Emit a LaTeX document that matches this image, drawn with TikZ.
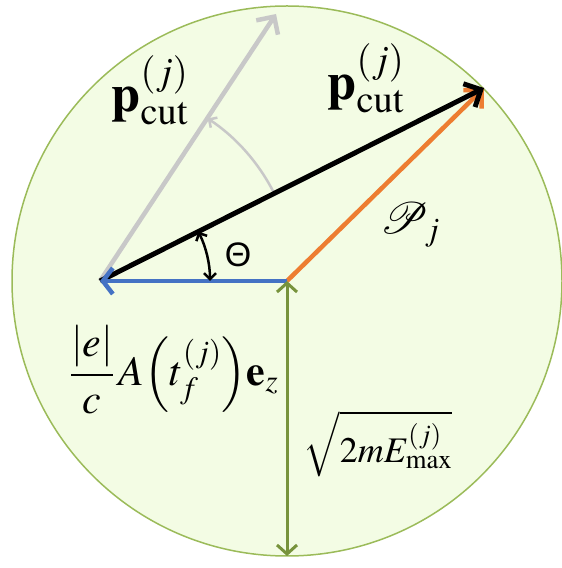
\documentclass[tikz,border=0pt]{standalone}
\usepackage{mathptmx}
\usepackage{fontspec}
\setmainfont{Liberation Serif}
\newfontfamily\thetafont{Liberation Sans}
\usetikzlibrary{arrows.meta}
\definecolor{myolive}{RGB}{155,187,89}
\definecolor{mygreen}{RGB}{119,147,60}
\definecolor{myblue}{RGB}{68,114,196}
\definecolor{myorange}{RGB}{237,125,49}
\definecolor{mygray}{RGB}{200,200,200}
\definecolor{diskin}{RGB}{243,252,228}
\definecolor{diskout}{RGB}{214,238,174}
\pgfdeclareradialshading{diskshade}{\pgfpoint{0bp}{0bp}}{color(0bp)=(diskin); color(30bp)=(diskin); color(50bp)=(diskout)}

\begin{document}
\begin{tikzpicture}[x=1pt, y=1pt,
    vec/.style={line width=#1, -{Straight Barb[length=13pt, width=26pt]}},
    anglearc/.style={line width=2.5pt, -{Straight Barb[length=6pt, width=12pt]}},
    lbl/.style={inner sep=0pt, font=\fontsize{#1}{#1}\selectfont}
  ]
    \useasboundingbox (0,0) rectangle (562,568);

    \coordinate (C) at (287,287);
    \coordinate (O) at (100,287);
    \coordinate (T) at (484,480);
    \coordinate (G) at (276,554);
    \coordinate (D) at (287,12);

    % momentum disk
    \shadedraw[shading=diskshade, draw=myolive, line width=1.5pt] (C) circle[radius=275];

    % rotated momentum
    \draw[vec=4.5pt, mygray] (O) -- (G);
    \draw[anglearc, mygray] ([shift={(27:195)}]O) arc[start angle=27, end angle=56.5, radius=195];

    \draw[vec=4.5pt, myorange] (C) -- (T);
    \draw[vec=5pt, black] (O) -- (T);
    \draw[vec=4.5pt, myblue, -{Straight Barb[length=10pt, width=26pt]}] (C) -- (O);
    \draw[line width=3pt, mygreen, {Straight Barb[length=9pt, width=20pt]}-{Straight Barb[length=9pt, width=20pt]}] (C) -- (D);

    % angle Theta
    \draw[anglearc, black, {Straight Barb[length=6pt, width=12pt]}-{Straight Barb[length=6pt, width=12pt]}]
      ([shift={(26.7:110)}]O) arc[start angle=26.7, end angle=0, radius=110];

    \node[lbl=52] (pleft) at (150,478) {$\mathbf{p}^{(j)}_{\mathrm{cut}}$};
    \node[lbl=52] (pright) at (366,490) {$\mathbf{p}^{(j)}_{\mathrm{cut}}$};
    \node[lbl=44] (calp) at (410,343) {$\mathcal{P}_{j}$};
    \node[lbl=34] (theta) at (238,313) {\thetafont Θ};
    \node[lbl=42] (field) at (174,198) {$\displaystyle\frac{|e|}{c}\,A\Bigl(t_f^{(j)}\Bigr)\mathbf{e}_z$};
    \node[lbl=36] (emax) at (378,124) {$\sqrt{2mE^{(j)}_{\mathrm{max}}}$};
\end{tikzpicture}
\end{document}
